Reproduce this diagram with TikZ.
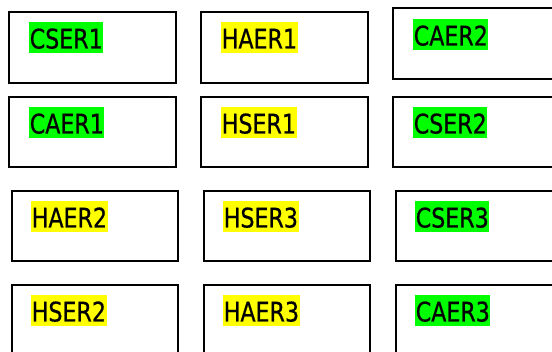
\documentclass[tikz,border=0pt]{standalone}
\usepackage{fontspec}
\setmainfont{DejaVu Sans}[FakeStretch=0.82, FakeBold=0.6]
\definecolor{hlgreen}{HTML}{00FF00}
\definecolor{hlyellow}{HTML}{FFFF00}
\tikzset{
  cell/.style={draw=black, line width=2.2pt, anchor=north west, inner sep=0pt, outer sep=0pt},
  tag/.style={anchor=north west, inner xsep=0.6pt, inner ysep=0pt,
    text height=26.3pt, text depth=4.4pt,
    font=\fontsize{27}{31}\selectfont},
  greentag/.style={tag, fill=hlgreen},
  yellowtag/.style={tag, fill=hlyellow}
}
\begin{document}
\begin{tikzpicture}[x=1pt, y=-1pt]
  \useasboundingbox (0,0) rectangle (552,352);
  \clip (0,0) rectangle (552,352);
  % grid of boxes (top-left corner, width, height)
  \node[cell, minimum width=167pt, minimum height=71pt] (b11) at (9,12) {};
  \node[cell, minimum width=167pt, minimum height=71pt] (b12) at (201,12) {};
  \node[cell, minimum width=167pt, minimum height=71pt] (b13) at (393,8) {};
  \node[cell, minimum width=167pt, minimum height=70pt] (b21) at (9,97) {};
  \node[cell, minimum width=167pt, minimum height=70pt] (b22) at (201,97) {};
  \node[cell, minimum width=167pt, minimum height=70pt] (b23) at (393,97) {};
  \node[cell, minimum width=166pt, minimum height=70pt] (b31) at (12,191) {};
  \node[cell, minimum width=166pt, minimum height=70pt] (b32) at (204,191) {};
  \node[cell, minimum width=166pt, minimum height=70pt] (b33) at (396,191) {};
  \node[cell, minimum width=166pt, minimum height=75pt] (b41) at (12,285) {};
  \node[cell, minimum width=166pt, minimum height=75pt] (b42) at (204,285) {};
  \node[cell, minimum width=166pt, minimum height=75pt] (b43) at (396,285) {};
  % highlighted labels
  \node[greentag]  (t11) at (29,22)  {CSER1};
  \node[yellowtag] (t12) at (221,22) {HAER1};
  \node[greentag]  (t13) at (413,19) {CAER2};
  \node[greentag]  (t21) at (29,107)  {CAER1};
  \node[yellowtag] (t22) at (221,107) {HSER1};
  \node[greentag]  (t23) at (413,107) {CSER2};
  \node[yellowtag] (t31) at (31,201)  {HAER2};
  \node[yellowtag] (t32) at (223,201) {HSER3};
  \node[greentag]  (t33) at (415,201) {CSER3};
  \node[yellowtag] (t41) at (31,295)  {HSER2};
  \node[yellowtag] (t42) at (223,295) {HAER3};
  \node[greentag]  (t43) at (415,295) {CAER3};
\end{tikzpicture}
\end{document}
